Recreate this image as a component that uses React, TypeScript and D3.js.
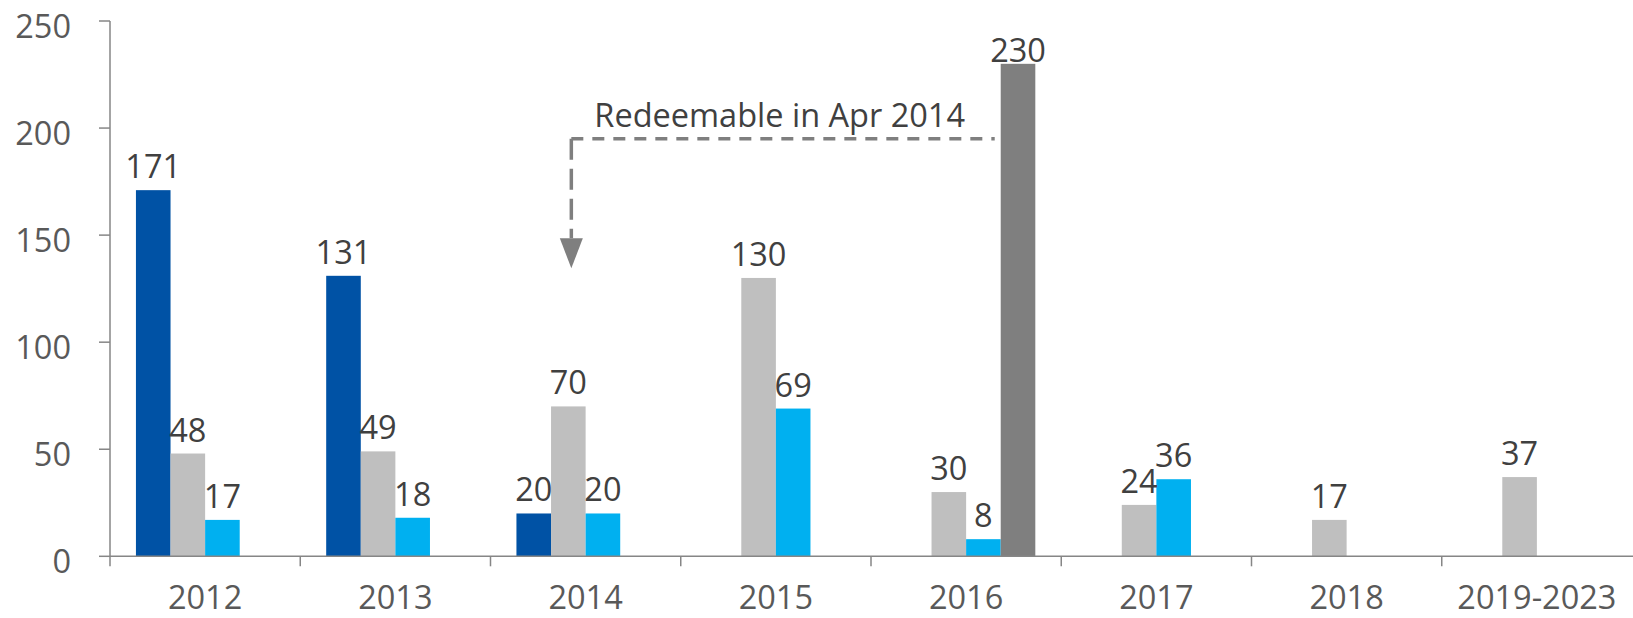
import * as d3 from "d3";

const categories = ["2012", "2013", "2014", "2015", "2016", "2017", "2018", "2019-2023"];
const seriesKeys = ["a", "b", "c", "d"];
const valuesA = [171, 131, 20, null, null, null, null, null];
const valuesB = [48, 49, 70, 130, 30, 24, 17, 37];
const valuesC = [17, 18, 20, 69, 8, 36, null, null];
const valuesD = [null, null, null, null, 230, null, null, null];
const yTicks = [0, 50, 100, 150, 200, 250];
const noteText = "Redeemable in Apr 2014";

const colors: Record<string, string> = {
  a: "#0052A5",
  b: "#BFBFBF",
  c: "#00B0F0",
  d: "#7F7F7F",
};

const width = 1633;
const height = 618;
const margin = { top: 21, bottom: 61, left: 110, right: 1 };
const font = "'Open Sans', 'Liberation Sans', sans-serif";

const App = () => {
  const seriesValues: Record<string, (number | null)[]> = {
    a: valuesA,
    b: valuesB,
    c: valuesC,
    d: valuesD,
  };

  const x = d3
    .scaleBand()
    .domain(categories)
    .range([margin.left, width - margin.right])
    .padding(0);

  const xInner = d3
    .scaleBand()
    .domain(seriesKeys)
    .range([0, x.bandwidth()])
    .paddingInner(0)
    .paddingOuter(0.75);

  const y = d3
    .scaleLinear()
    .domain([0, 250])
    .range([height - margin.bottom - 0.7, margin.top]);

  const y0 = y(0);

  const bars = seriesKeys.flatMap(key =>
    categories.map((cat, i) => ({ key, cat, value: seriesValues[key][i] }))
  ).filter(d => d.value !== null) as { key: string; cat: string; value: number }[];

  // labels near the top are pushed down so they stay inside the chart area
  const labelY = (v: number) => Math.max(y(v) - 12, margin.top + 40.5);

  // annotation anchored to the 2014 grey bar and the 2016 dark bar
  const arrowX = (x("2014") as number) + (xInner("b") as number) + xInner.bandwidth() / 2 + 3;
  const lineEndX = (x("2016") as number) + (xInner("d") as number) - 6;
  const lineY = y(195);
  const tipY = y(134.5);
  const headH = 30;

  return (
    <div style={{ position: "fixed", left: 0, top: 0 }}>
      <svg width={width} height={height} style={{ display: "block", background: "#fff" }}>
        {bars.map(d => (
          <rect
            key={d.key + d.cat}
            x={(x(d.cat) as number) + (xInner(d.key) as number)}
            y={y(d.value)}
            width={xInner.bandwidth()}
            height={y0 - y(d.value)}
            fill={colors[d.key]}
          />
        ))}

        {/* y axis */}
        <line x1={margin.left} x2={margin.left} y1={y(250)} y2={y0} stroke="#868686" strokeWidth={1.5} />
        {yTicks.map(t => (
          <g key={t}>
            <line x1={margin.left - 11} x2={margin.left} y1={y(t)} y2={y(t)} stroke="#868686" strokeWidth={1.5} />
            <text
              x={71}
              y={y(t) + 16.5}
              textAnchor="end"
              fontFamily={font}
              fontSize={32.5}
              fill="#595959"
            >
              {t}
            </text>
          </g>
        ))}

        {/* x axis */}
        <line x1={margin.left} x2={width} y1={y0} y2={y0} stroke="#868686" strokeWidth={1.5} />
        {categories.map(c => (
          <g key={c}>
            <line
              x1={x(c) as number}
              x2={x(c) as number}
              y1={y0}
              y2={y0 + 10}
              stroke="#868686"
              strokeWidth={1.5}
            />
            <text
              x={(x(c) as number) + x.bandwidth() / 2}
              y={608.5}
              textAnchor="middle"
              fontFamily={font}
              fontSize={32.5}
              fill="#595959"
            >
              {c}
            </text>
          </g>
        ))}

        {/* value labels */}
        {bars.map(d => (
          <text
            key={"l" + d.key + d.cat}
            x={(x(d.cat) as number) + (xInner(d.key) as number) + xInner.bandwidth() / 2}
            y={labelY(d.value)}
            textAnchor="middle"
            fontFamily={font}
            fontSize={32.5}
            fill="#404040"
          >
            {d.value}
          </text>
        ))}

        {/* annotation */}
        <line
          x1={arrowX}
          x2={lineEndX}
          y1={lineY}
          y2={lineY}
          stroke="#7F7F7F"
          strokeWidth={3.5}
          strokeDasharray="12 9"
        />
        <line
          x1={arrowX}
          x2={arrowX}
          y1={lineY}
          y2={tipY - headH}
          stroke="#7F7F7F"
          strokeWidth={3.5}
          strokeDasharray="21 9"
        />
        <path
          d={`M${arrowX - 11.5},${tipY - headH} L${arrowX + 11.5},${tipY - headH} L${arrowX},${tipY} Z`}
          fill="#7F7F7F"
        />
        <text
          x={arrowX + 23}
          y={lineY - 12}
          fontFamily={font}
          fontSize={32.5}
          fill="#404040"
        >
          {noteText}
        </text>
      </svg>
    </div>
  );
};

export default App;
